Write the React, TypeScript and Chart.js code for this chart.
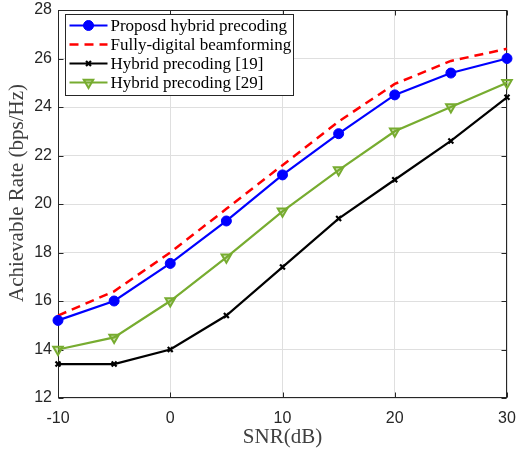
import React, { useEffect, useRef } from "react";
import { Chart, registerables } from "chart.js";
import { drawPoint } from "chart.js/helpers";

Chart.register(...registerables);

const snr = [-10, -5, 0, 5, 10, 15, 20, 25, 30];
const proposed = [15.2, 16.0, 17.55, 19.3, 21.2, 22.9, 24.5, 25.4, 26.0];
const fullyDigital = [15.4, 16.4, 18.0, 19.8, 21.6, 23.4, 24.95, 25.9, 26.4];
const hybrid19 = [13.4, 13.4, 14.0, 15.4, 17.4, 19.4, 21.0, 22.6, 24.4];
const hybrid29 = [14.0, 14.5, 16.0, 17.8, 19.7, 21.4, 23.0, 24.0, 25.0];
const seriesLabels = [
  "Proposd hybrid precoding",
  "Fully-digital beamforming",
  "Hybrid precoding [19]",
  "Hybrid precoding [29]",
];
const xTicks = [-10, 0, 10, 20, 30];
const yTicks = [12, 14, 16, 18, 20, 22, 24, 26, 28];
const xTitle = "SNR(dB)";
const yTitle = "Achievable Rate (bps/Hz)";

const AXIS = "#262626";
const GRID = "#dfdfdf";

const toXY = (ys: number[]) => ys.map((y, i) => ({ x: snr[i], y }));

const boxPlugin = {
  id: "boxPlugin",
  beforeDatasetsDraw(chart: any) {
    const { ctx, chartArea: a, scales } = chart;
    ctx.save();
    ctx.strokeStyle = AXIS;
    ctx.lineWidth = 1;
    const L = Math.round(a.left) + 0.5;
    const R = Math.round(a.right) - 0.5;
    const T = Math.round(a.top) + 0.5;
    const B = Math.round(a.bottom) - 0.5;
    ctx.strokeRect(L, T, R - L, B - T);
    const tl = 5;
    ctx.beginPath();
    xTicks.forEach((v) => {
      const px = Math.round(scales.x.getPixelForValue(v)) + 0.5;
      ctx.moveTo(px, B);
      ctx.lineTo(px, B - tl);
      ctx.moveTo(px, T);
      ctx.lineTo(px, T + tl);
    });
    yTicks.forEach((v) => {
      const py = Math.round(scales.y.getPixelForValue(v)) + 0.5;
      ctx.moveTo(L, py);
      ctx.lineTo(L + tl, py);
      ctx.moveTo(R, py);
      ctx.lineTo(R - tl, py);
    });
    ctx.stroke();
    ctx.restore();
  },
  afterDraw(chart: any) {
    const { ctx, chartArea: a } = chart;
    // y-axis title
    ctx.save();
    ctx.translate(17, (a.top + a.bottom) / 2 - 11);
    ctx.rotate(-Math.PI / 2);
    ctx.font = "21px 'Liberation Serif'";
    ctx.fillStyle = "#404040";
    ctx.textAlign = "center";
    ctx.textBaseline = "middle";
    ctx.fillText(yTitle, 0, 0);
    ctx.restore();

    // legend
    const bx = a.left + 7.5;
    const by = a.top + 4.5;
    const rowH = 19;
    const font = "17px 'Liberation Serif'";
    ctx.save();
    ctx.font = font;
    let maxW = 0;
    chart.data.datasets.forEach((d: any) => {
      maxW = Math.max(maxW, ctx.measureText(d.label).width);
    });
    const textX = bx + 45;
    const bw = Math.ceil(textX - bx + maxW + 2);
    const bh = rowH * 4 + 5;
    ctx.fillStyle = "#ffffff";
    ctx.fillRect(bx, by, bw, bh);
    ctx.strokeStyle = AXIS;
    ctx.lineWidth = 1;
    ctx.strokeRect(bx, by, bw, bh);
    chart.data.datasets.forEach((d: any, i: number) => {
      const cy = by + 11 + i * rowH;
      const x0 = bx + 4;
      const x1 = bx + 42;
      ctx.save();
      ctx.strokeStyle = d.borderColor;
      ctx.lineWidth = d.borderWidth;
      ctx.setLineDash(d.borderDash || []);
      ctx.beginPath();
      ctx.moveTo(x0, cy);
      ctx.lineTo(x1, cy);
      ctx.stroke();
      ctx.restore();
      if (d.pointRadius > 0) {
        ctx.save();
        ctx.fillStyle = d.pointBackgroundColor;
        ctx.strokeStyle = d.pointBorderColor;
        ctx.lineWidth = d.pointBorderWidth;
        ctx.setLineDash([]);
        drawPoint(
          ctx,
          {
            pointStyle: d.pointStyle,
            radius: d.pointRadius,
            rotation: d.pointRotation || 0,
            borderWidth: d.pointBorderWidth,
          } as any,
          (x0 + x1) / 2,
          cy
        );
        ctx.restore();
      }
      ctx.fillStyle = "#000000";
      ctx.font = font;
      ctx.textBaseline = "middle";
      ctx.textAlign = "left";
      ctx.fillText(d.label, textX, cy + 1);
    });
    ctx.restore();
  },
};

export default function App() {
  const ref = useRef<HTMLCanvasElement>(null);
  useEffect(() => {
    if (!ref.current) return;
    const chart = new Chart(ref.current, {
      type: "line",
      data: {
        datasets: [
          {
            label: seriesLabels[0],
            data: toXY(proposed),
            borderColor: "#0000ff",
            backgroundColor: "#0000ff",
            borderWidth: 2.2,
            pointStyle: "circle",
            pointRadius: 5,
            pointBackgroundColor: "#0000ff",
            pointBorderColor: "#0000ff",
            pointBorderWidth: 1,
          },
          {
            label: seriesLabels[1],
            data: toXY(fullyDigital),
            borderColor: "#ff0000",
            backgroundColor: "#ff0000",
            borderWidth: 2.5,
            borderDash: [9, 6],
            pointRadius: 0,
            pointBackgroundColor: "#ff0000",
            pointBorderColor: "#ff0000",
            pointBorderWidth: 0,
          },
          {
            label: seriesLabels[2],
            data: toXY(hybrid19),
            borderColor: "#000000",
            backgroundColor: "#000000",
            borderWidth: 2.2,
            pointStyle: "crossRot",
            pointRadius: 3.5,
            pointBackgroundColor: "#000000",
            pointBorderColor: "#000000",
            pointBorderWidth: 2.2,
          },
          {
            label: seriesLabels[3],
            data: toXY(hybrid29),
            borderColor: "#77ac30",
            backgroundColor: "#77ac30",
            borderWidth: 2.2,
            pointStyle: "triangle",
            pointRotation: 180,
            pointRadius: 5.5,
            pointBackgroundColor: "rgba(119,172,48,0.35)",
            pointBorderColor: "#77ac30",
            pointBorderWidth: 2,
          },
        ] as any,
      },
      options: {
        responsive: false,
        animation: false,
        layout: { padding: { top: 10, right: 10, left: 0, bottom: 0 } },
        elements: { line: { tension: 0 } },
        datasets: { line: { clip: false } as any },
        plugins: { legend: { display: false }, tooltip: { enabled: false } },
        scales: {
          x: {
            type: "linear",
            min: -10,
            max: 30,
            afterFit: (s: any) => {
              s.height = 56;
            },
            afterBuildTicks: (s: any) => {
              s.ticks = xTicks.map((v) => ({ value: v }));
            },
            ticks: {
              color: AXIS,
              font: { family: "'Liberation Sans'", size: 16 },
              padding: 0,
              maxRotation: 0,
            },
            grid: {
              color: GRID,
              drawTicks: true,
              tickLength: 11,
              tickColor: "rgba(0,0,0,0)",
            },
            border: { display: false },
            title: {
              display: true,
              text: xTitle,
              color: "#404040",
              font: { family: "'Liberation Serif'", size: 21 },
              padding: { top: 0, bottom: 4 },
            },
          },
          y: {
            type: "linear",
            min: 12,
            max: 28,
            afterFit: (s: any) => {
              s.width = 58;
            },
            afterBuildTicks: (s: any) => {
              s.ticks = yTicks.map((v) => ({ value: v }));
            },
            ticks: {
              color: AXIS,
              font: { family: "'Liberation Sans'", size: 16 },
              padding: 0,
            },
            grid: {
              color: GRID,
              drawTicks: true,
              tickLength: 6,
              tickColor: "rgba(0,0,0,0)",
            },
            border: { display: false },
            title: { display: false },
          },
        },
      },
      plugins: [boxPlugin],
    });
    return () => chart.destroy();
  }, []);
  return (
    <div style={{ position: "absolute", left: 0, top: 0, width: 517, height: 454 }}>
      <canvas ref={ref} width={517} height={454} />
    </div>
  );
}
